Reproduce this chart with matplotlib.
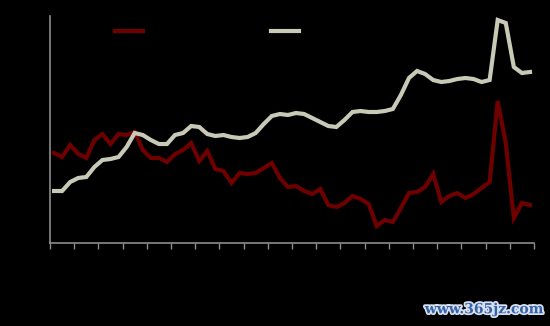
import numpy as np
import matplotlib.pyplot as plt
import matplotlib.patheffects as pe

# Series values (arbitrary units: height above the x axis)
serie_roja = [90, 86, 98, 89, 85, 103, 109, 99, 109, 108,
              111, 93, 85, 85, 81, 89, 93, 100, 82, 92,
              74, 72, 60, 70, 69, 70, 75, 80, 65, 56,
              57, 52, 49, 54, 38, 36, 40, 47, 44, 39,
              17, 23, 21, 35, 50, 51, 56, 69, 41, 47,
              50, 45, 49, 55, 61, 142, 100, 25, 40, 38]
serie_gris = [52, 52, 61, 65, 66, 76, 83, 84, 86, 96,
              110, 108, 103, 99, 99, 108, 110, 117, 116, 109,
              107, 108, 106, 105, 106, 110, 119, 127, 129, 128,
              130, 129, 125, 121, 117, 116, 123, 131, 132, 131,
              131, 132, 134, 148, 165, 172, 169, 163, 161, 162,
              164, 165, 164, 161, 163, 223, 220, 176, 170, 171]
etiquetas = ["Serie 1", "Serie 2"]

n = len(serie_roja)
x = np.arange(n)

fig = plt.figure(figsize=(5.5, 3.26), dpi=100, facecolor="black")
ax = fig.add_axes([50 / 550, 83 / 326, 484 / 550, 227 / 326])
ax.set_facecolor("black")

l1, = ax.plot(x, serie_roja, color="#6E0000", linewidth=3, solid_joinstyle="miter")
l2, = ax.plot(x, serie_gris, color="#C9C9B8", linewidth=3, solid_joinstyle="miter")

ax.set_xlim(-0.5, n - 0.5)
ax.set_ylim(0, 227)
ax.set_xticks(np.arange(-0.5, n, 3))
ax.set_xticklabels([])
ax.set_yticks([])
ax.tick_params(axis="x", direction="out", length=4, width=1, color="#8C8C8C")
for lado in ["top", "right"]:
    ax.spines[lado].set_visible(False)
for lado in ["left", "bottom"]:
    ax.spines[lado].set_color("#8C8C8C")
    ax.spines[lado].set_linewidth(1.2)

# Leyenda (texto en negro como en el original)
leg1 = fig.legend([l1], [etiquetas[0]], loc="center left", bbox_to_anchor=(102 / 550, 1 - 32 / 326),
                  frameon=False, handlelength=2.05, fontsize=10, labelcolor="black")
leg2 = fig.legend([l2], [etiquetas[1]], loc="center left", bbox_to_anchor=(258 / 550, 1 - 32 / 326),
                  frameon=False, handlelength=2.05, fontsize=10, labelcolor="black")

# Marca de agua
fig.text(0.988, 0.03, "www.365jz.com", ha="right", va="bottom", fontsize=10,
         fontweight="bold", family="DejaVu Serif", color="#3563A8",
         path_effects=[pe.withStroke(linewidth=2.5, foreground="#D8E0F0")])

fig.savefig("out.png", dpi=100, facecolor="black")
